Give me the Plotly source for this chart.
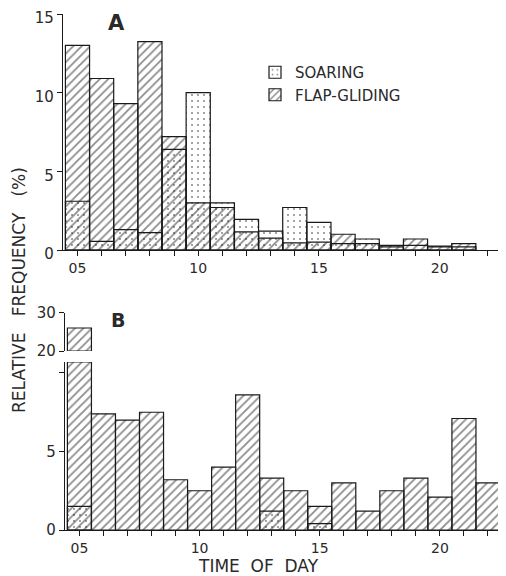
"""
Flight mode by time of day, panels A and B (broken y axis in B).
"""

import plotly.graph_objects as go

# ── data ────────────────────────────────────────────────────────────────
HOURS_A = list(range(5, 22))
SOARING_A = [3.1, 0.55, 1.3, 1.1, 6.4, 10.0, 3.0, 1.95, 1.2, 2.7, 1.75, 0.4, 0.7, 0.2, 0.3, 0.2, 0.2]
FLAP_A = [13.0, 10.9, 9.3, 13.25, 7.2, 3.0, 2.7, 1.15, 0.75, 0.45, 0.5, 1.0, 0.4, 0.3, 0.7, 0.25, 0.4]

HOURS_B = list(range(5, 23))
SOARING_B = [1.5, None, None, None, None, None, None, None, 1.2, None, 0.4, None, None, None, None, None, None, None]
FLAP_B = [26.0, 7.4, 7.0, 7.5, 3.2, 2.5, 4.0, 8.6, 3.3, 2.5, 1.5, 3.0, 1.2, 2.5, 3.3, 2.1, 7.1, 3.0]

X_TICKS = list(range(5, 23))
X_LABELS = ["05" if h == 5 else (str(h) if h % 5 == 0 else "") for h in X_TICKS]

# broken axis of panel B
B_LOW_TOP = 10.7
B_HIGH = (20, 30)

# ── style ───────────────────────────────────────────────────────────────
INK = "#1a1a1a"
TXT = "#2a2a2a"
FONT = "DejaVu Sans"
CLEAR = "rgba(0,0,0,0)"

# the page body has an 8px margin, so lay out in window pixels minus that
OFF = 8
W, H = 506 - OFF, 576 - OFF


def px(x):
    return (x - OFF) / W


def py(y):
    return 1 - (y - OFF) / H


def hatch():
    return dict(shape="/", fgcolor=INK, bgcolor=CLEAR, fillmode="overlay", size=6, solidity=0.3)


def dots():
    return dict(shape=".", fgcolor=INK, bgcolor=CLEAR, fillmode="overlay", size=6, solidity=0.1)


def bar(x, y, name, pattern, xa, ya, legend=False, base=None, rank=1):
    return go.Bar(x=x, y=y, name=name, base=base, width=1.0, legendrank=rank,
                  marker=dict(color=CLEAR, pattern=pattern, line=dict(color=INK, width=1.2)),
                  xaxis=xa, yaxis=ya, showlegend=legend, hoverinfo="skip")


fig = go.Figure()

# panel A
fig.add_trace(bar(HOURS_A, FLAP_A, "FLAP-GLIDING", hatch(), "x", "y", legend=True, rank=2))
fig.add_trace(bar(HOURS_A, SOARING_A, "SOARING", dots(), "x", "y", legend=True, rank=1))

# panel B, lower part (values capped at the break)
flap_b_low = [min(v, B_LOW_TOP) for v in FLAP_B]
fig.add_trace(bar(HOURS_B, flap_b_low, "FLAP-GLIDING", hatch(), "x2", "y2"))
fig.add_trace(bar(HOURS_B, SOARING_B, "SOARING", dots(), "x2", "y2"))

# panel B, upper part above the break
flap_b_high = [v - B_HIGH[0] if v > B_HIGH[0] else None for v in FLAP_B]
fig.add_trace(bar(HOURS_B, flap_b_high, "FLAP-GLIDING", hatch(), "x3", "y3", base=B_HIGH[0]))

xdom_a = [px(63), px(500)]
xdom_b = [px(65), px(500)]

axis_common = dict(showline=True, linecolor=INK, linewidth=1.3, showgrid=False, zeroline=False,
                   automargin=False, ticklabeloverflow="allow",
                   ticks="outside", ticklen=5, tickwidth=1.2, tickcolor=INK,
                   tickfont=dict(family=FONT, size=15, color=TXT))

xaxis_common = dict(axis_common, range=[4.4, 22.5], tickvals=X_TICKS, ticktext=X_LABELS,
                    tickfont=dict(family=FONT, size=14, color=TXT))

fig.update_layout(
    template="none",
    width=W, height=H,
    margin=dict(l=0, r=0, t=0, b=0, pad=0, autoexpand=False),
    paper_bgcolor="white", plot_bgcolor="white",
    barmode="overlay",
    font=dict(family=FONT, color=TXT),
    xaxis=dict(xaxis_common, domain=xdom_a, anchor="y"),
    yaxis=dict(axis_common, domain=[py(250), py(14)], range=[0, 15],
               tickvals=[0, 5, 10, 15], ticklabelshift=4, anchor="x"),
    xaxis2=dict(xaxis_common, domain=xdom_b, anchor="y2"),
    yaxis2=dict(axis_common, domain=[py(530), py(362)], range=[0, B_LOW_TOP],
                tickvals=[0, 5, 10], ticktext=["0", "5", ""], anchor="x2"),
    xaxis3=dict(domain=xdom_b, range=[4.4, 22.5], visible=False, anchor="y3"),
    yaxis3=dict(axis_common, domain=[py(351), py(312.7)], range=list(B_HIGH),
                tickvals=[20, 30], anchor="x3"),
    legend=dict(x=px(255), y=py(56), xanchor="left", yanchor="top",
                traceorder="normal", bgcolor=CLEAR, borderwidth=0,
                font=dict(family=FONT, size=15, color=TXT)),
)

labels = [
    ("<b>A</b>", 116, 23, 21, 0),
    ("<b>B</b>", 118, 320, 19, 0),
    ("TIME  OF  DAY", 258, 566, 17, 0),
    ("RELATIVE   FREQUENCY   (%)", 19, 290, 17, -90),
]
for text, lx, ly, size, angle in labels:
    fig.add_annotation(text=text, x=px(lx), y=py(ly), xref="paper", yref="paper",
                       xanchor="center", yanchor="middle", showarrow=False, textangle=angle,
                       font=dict(family=FONT, size=size, color=TXT))

fig.write_html("out.html")
